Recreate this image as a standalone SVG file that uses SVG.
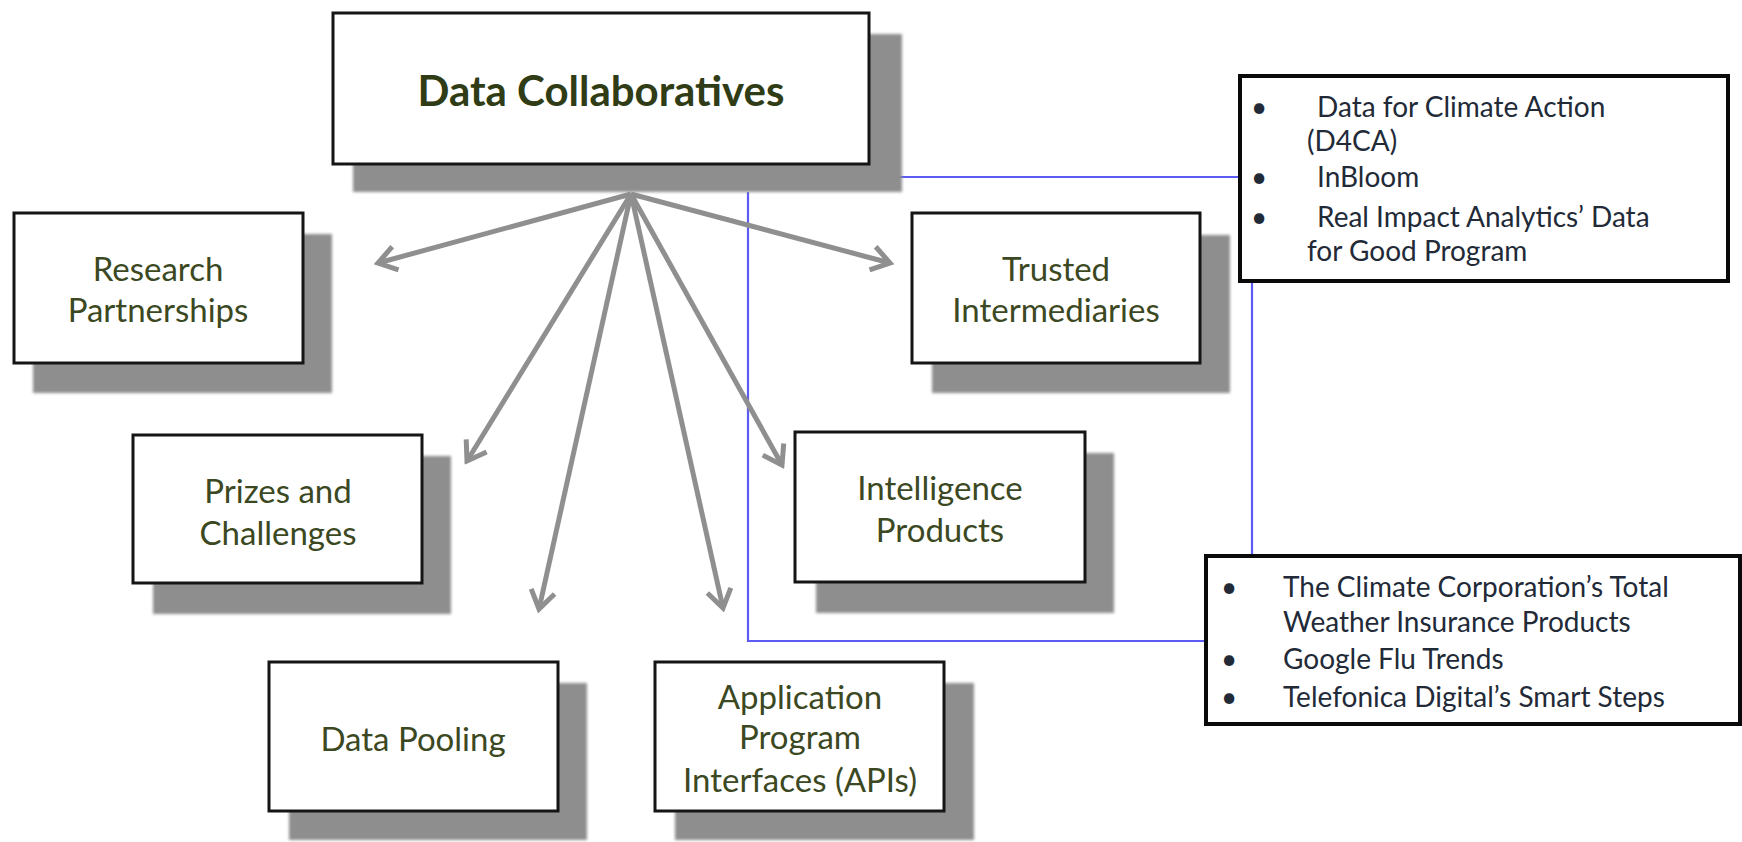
<svg xmlns="http://www.w3.org/2000/svg" width="1742" height="842" viewBox="0 0 1742 842">
<style>
.shadow{fill:#8e8e8e;filter:url(#blur)}
.box{fill:#fff;stroke:#151515;stroke-width:3}
.lbl{font-family:Lato,"Open Sans","Liberation Sans",sans-serif;font-size:33px;fill:#3b4822;text-anchor:middle}
.title{font-family:Lato,"Open Sans","Liberation Sans",sans-serif;font-size:42px;font-weight:bold;fill:#2f3c15;text-anchor:middle}
.lst{font-family:Lato,"Open Sans","Liberation Sans",sans-serif;font-size:28px;fill:#222a38}
.blue{fill:none;stroke:#5d5cf2;stroke-width:2.2}
.arrow{fill:none;stroke:#8f8f8f;stroke-width:5;marker-end:url(#ah)}
.lbox{fill:#fff;stroke:#0a0a0a;stroke-width:4}
</style>
<defs>
<filter id="blur" x="-5%" y="-5%" width="110%" height="110%"><feGaussianBlur stdDeviation="1.5"/></filter>
<marker id="ah" markerUnits="userSpaceOnUse" viewBox="-24 -16 28 32" refX="0" refY="0" markerWidth="28" markerHeight="32" orient="auto">
<path d="M-18,-12 L0,0 L-18,12" fill="none" stroke="#8f8f8f" stroke-width="5" stroke-linejoin="miter"/>
</marker>
</defs>
<rect width="1742" height="842" fill="#fff"/>
<g id="connectors">
<path class="blue" d="M869,177 H1240"/>
<path class="blue" d="M748,192 V641 H1206"/>
<path class="blue" d="M1252,282 V556"/>
<line class="arrow" x1="631" y1="194" x2="378" y2="263"/>
<line class="arrow" x1="631" y1="194" x2="890" y2="263"/>
<line class="arrow" x1="631" y1="194" x2="467" y2="461"/>
<line class="arrow" x1="631" y1="194" x2="782" y2="465"/>
<line class="arrow" x1="631" y1="194" x2="539" y2="609"/>
<line class="arrow" x1="631" y1="194" x2="723" y2="608"/>
</g>
<g id="data-collaboratives">
<rect class="shadow" x="353" y="34" width="549" height="158"/>
<rect class="box" x="333" y="13" width="536" height="151"/>
<text class="title" x="601" y="106">Data Collaboratives</text>
</g>
<g id="research-partnerships">
<rect class="shadow" x="33" y="234" width="299" height="159"/>
<rect class="box" x="14" y="213" width="289" height="150"/>
<text class="lbl" x="158" y="281">Research</text>
<text class="lbl" x="158" y="322">Partnerships</text>
</g>
<g id="trusted-intermediaries">
<rect class="shadow" x="932" y="235" width="298" height="158"/>
<rect class="box" x="912" y="213" width="288" height="150"/>
<text class="lbl" x="1056" y="281">Trusted</text>
<text class="lbl" x="1056" y="322">Intermediaries</text>
</g>
<g id="prizes-and-challenges">
<rect class="shadow" x="153" y="456" width="298" height="158"/>
<rect class="box" x="133" y="435" width="289" height="148"/>
<text class="lbl" x="278" y="503">Prizes and</text>
<text class="lbl" x="278" y="545">Challenges</text>
</g>
<g id="intelligence-products">
<rect class="shadow" x="816" y="453" width="298" height="160"/>
<rect class="box" x="795" y="432" width="290" height="150"/>
<text class="lbl" x="940" y="500">Intelligence</text>
<text class="lbl" x="940" y="542">Products</text>
</g>
<g id="data-pooling">
<rect class="shadow" x="289" y="683" width="298" height="157"/>
<rect class="box" x="269" y="662" width="289" height="149"/>
<text class="lbl" x="413" y="751">Data Pooling</text>
</g>
<g id="apis">
<rect class="shadow" x="675" y="683" width="299" height="157"/>
<rect class="box" x="655" y="662" width="289" height="149"/>
<text class="lbl" x="800" y="709">Application</text>
<text class="lbl" x="800" y="749">Program</text>
<text class="lbl" x="800" y="792">Interfaces (APIs)</text>
</g>
<g id="examples-top">
<rect class="lbox" x="1240" y="76" width="488" height="205"/>
<g class="lst">
<text x="1251" y="117">•</text>
<text x="1317" y="117">Data for Climate Action</text>
<text x="1307" y="151">(D4CA)</text>
<text x="1251" y="187">•</text>
<text x="1317" y="187">InBloom</text>
<text x="1251" y="227">•</text>
<text x="1317" y="227">Real Impact Analytics’ Data</text>
<text x="1307" y="261">for Good Program</text>
</g>
</g>
<g id="examples-bottom">
<rect class="lbox" x="1206" y="556" width="534" height="168"/>
<g class="lst">
<text x="1221" y="597">•</text>
<text x="1283" y="597">The Climate Corporation’s Total</text>
<text x="1283" y="632">Weather Insurance Products</text>
<text x="1221" y="669">•</text>
<text x="1283" y="669">Google Flu Trends</text>
<text x="1221" y="707">•</text>
<text x="1283" y="707">Telefonica Digital’s Smart Steps</text>
</g>
</g>
</svg>
